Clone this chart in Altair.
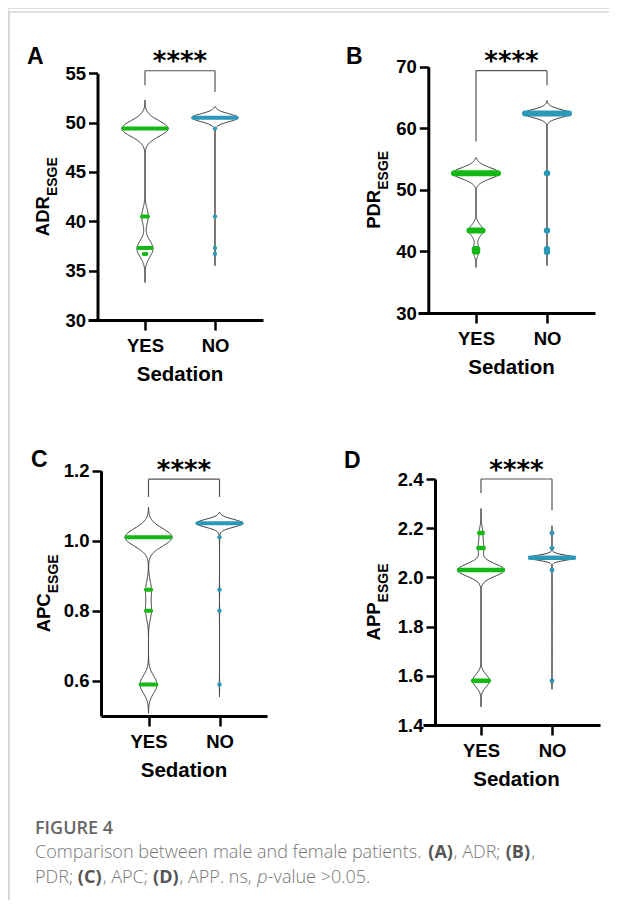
import altair as alt
import pandas as pd

# ---------------- data ----------------
GROUPS = ["YES", "NO"]

# Panel A - ADR (ESGE)
A_YES_VALUES = [49.4, 40.5, 37.3, 36.7]
A_YES_COUNTS = [100, 14, 30, 6]
A_NO_VALUES = [50.5, 49.4, 40.5, 37.3, 36.7]
A_NO_COUNTS = [100, 1, 1, 1, 1]
A_TICKS = [30, 35, 40, 45, 50, 55]
A_DOMAIN = [30, 55]
A_BANDWIDTH = [0.8, 0.4]
A_EXTENT = [[33.8, 52.3], [35.5, 51.6]]
A_BRACKET = [55.26, 53.8, 53.1]

# Panel B - PDR (ESGE)
B_YES_VALUES = [52.7, 43.4, 40.4, 40.0]
B_YES_COUNTS = [100, 30, 6, 6]
B_NO_VALUES = [62.4, 52.7, 43.4, 40.4, 39.9]
B_NO_COUNTS = [100, 1, 1, 1, 1]
B_TICKS = [30, 40, 50, 60, 70]
B_DOMAIN = [30, 70]
B_BANDWIDTH = [0.9, 0.65]
B_EXTENT = [[37.4, 55.2], [37.7, 64.5]]
B_BRACKET = [69.35, 57.85, 67.0]

# Panel C - APC (ESGE)
C_YES_VALUES = [1.01, 0.86, 0.80, 0.59]
C_YES_COUNTS = [100, 12, 12, 36]
C_NO_VALUES = [1.05, 1.01, 0.86, 0.80, 0.59]
C_NO_COUNTS = [100, 1, 1, 1, 1]
C_TICKS = [0.6, 0.8, 1.0, 1.2]
C_DOMAIN = [0.5, 1.2]
C_BANDWIDTH = [0.025, 0.011]
C_EXTENT = [[0.508, 1.095], [0.555, 1.08]]
C_BRACKET = [1.176, 1.125, 1.125]

# Panel D - APP (ESGE)
D_YES_VALUES = [2.18, 2.12, 2.03, 1.58]
D_YES_COUNTS = [8, 12, 100, 36]
D_NO_VALUES = [2.18, 2.12, 2.08, 2.03, 1.58]
D_NO_COUNTS = [1, 1, 100, 1, 1]
D_TICKS = [1.4, 1.6, 1.8, 2.0, 2.2, 2.4]
D_DOMAIN = [1.4, 2.4]
D_BANDWIDTH = [0.025, 0.01]
D_EXTENT = [[1.474, 2.28], [1.545, 2.21]]
D_BRACKET = [2.40, 2.343, 2.274]

SIGNIF = "****"
X_TITLE = "Sedation"
Y_TITLES = ["ADR", "PDR", "APC", "APP"]
Y_SUB = "ESGE"
LETTERS = ["A", "B", "C", "D"]
CAPTION_HEAD = "FIGURE 4"
CAPTION_LINES = [
    [("Comparison between male and female patients. ", "normal", "normal"), ("(A)", "bold", "normal"),
     (", ADR; ", "normal", "normal"), ("(B)", "bold", "normal"), (",", "normal", "normal")],
    [("PDR; ", "normal", "normal"), ("(C)", "bold", "normal"), (", APC; ", "normal", "normal"),
     ("(D)", "bold", "normal"), (", APP. ns, ", "normal", "normal"), ("p", "normal", "italic"),
     ("-value >0.05.", "normal", "normal")],
]

# ---------------- styling / layout ----------------
FONT = "Liberation Sans"
CAP_FONT = "Open Sans"
GREEN = "#14b814"
BLUE = "#2a98b6"
W, H = 601, 892
HALF = 0.33       # violin max half width (group units)
LINE_HALF = 0.31  # widest point row half width

# plot-area layout in pixels: left, right, yes-center, no-center, top, bottom, y-axis x
LAYOUT = {
    "A": dict(left=80, right=255, yes=137, no=207, top=65.3, bottom=312, yaxis=89.5, sw=4),
    "B": dict(left=410, right=587, yes=468, no=539, top=58.7, bottom=305, yaxis=420.3, sw=6),
    "C": dict(left=93, right=259, yes=140.5, no=211.5, top=462.7, bottom=708, yaxis=93, sw=4),
    "D": dict(left=415, right=592, yes=473, no=544, top=471, bottom=717, yaxis=427, sw=4.5),
}
TITLE_X = {"A": 40.5, "B": 372, "C": 42, "D": 372}
LETTER_POS = {"A": (19, 56), "B": (338, 56), "C": (23, 459), "D": (336, 460)}

PANELS = {
    "A": dict(yes=(A_YES_VALUES, A_YES_COUNTS), no=(A_NO_VALUES, A_NO_COUNTS), ticks=A_TICKS,
              dom=A_DOMAIN, bw=A_BANDWIDTH, ext=A_EXTENT, br=A_BRACKET, fmt="d"),
    "B": dict(yes=(B_YES_VALUES, B_YES_COUNTS), no=(B_NO_VALUES, B_NO_COUNTS), ticks=B_TICKS,
              dom=B_DOMAIN, bw=B_BANDWIDTH, ext=B_EXTENT, br=B_BRACKET, fmt="d"),
    "C": dict(yes=(C_YES_VALUES, C_YES_COUNTS), no=(C_NO_VALUES, C_NO_COUNTS), ticks=C_TICKS,
              dom=C_DOMAIN, bw=C_BANDWIDTH, ext=C_EXTENT, br=C_BRACKET, fmt=".1f"),
    "D": dict(yes=(D_YES_VALUES, D_YES_COUNTS), no=(D_NO_VALUES, D_NO_COUNTS), ticks=D_TICKS,
              dom=D_DOMAIN, bw=D_BANDWIDTH, ext=D_EXTENT, br=D_BRACKET, fmt=".1f"),
}

ONE = pd.DataFrame({"k": [0]})


def text(t, x, y, size, weight="bold", font=FONT, align="left", angle=None, color="black", style=None):
    kw = dict(text=t, fontSize=size, fontWeight=weight, font=font, align=align, baseline="alphabetic", color=color)
    if angle is not None:
        kw["angle"] = angle
    if style:
        kw["fontStyle"] = style
    return alt.Chart(ONE).mark_text(**kw).encode(x=alt.value(x), y=alt.value(y))


def expand(values, counts):
    out = []
    for v, c in zip(values, counts):
        out += [v] * c
    return pd.DataFrame({"v": out})


ARIAL_B = {"A": .722, "D": .722, "R": .722, "P": .667, "C": .722, "E": .667, "S": .667, "G": .778}


def bw_width(s, size):
    return sum(ARIAL_B.get(ch, .6) for ch in s) * size


layers = []

# frame lines
layers.append(alt.Chart(ONE).mark_rule(color="#d2d2d2", strokeWidth=1.5).encode(
    x=alt.value(1), x2=alt.value(W), y=alt.value(4)))
layers.append(alt.Chart(ONE).mark_rule(color="#d2d2d2", strokeWidth=1.5).encode(
    x=alt.value(1), y=alt.value(4), y2=alt.value(H)))

for key, ytitle in zip(LETTERS, Y_TITLES):
    L = LAYOUT[key]
    P = PANELS[key]
    sp = L["no"] - L["yes"]
    xdom = [(L["left"] - L["yes"]) / sp, (L["right"] - L["yes"]) / sp]
    xs = alt.Scale(domain=xdom, range=[L["left"], L["right"]], nice=False, zero=False)
    ys = alt.Scale(domain=P["dom"], range=[L["bottom"], L["top"]], nice=False, zero=False)
    xax = alt.Axis(orient="bottom", offset=L["bottom"] - H, values=[0, 1],
                   labelExpr="datum.value == 0 ? 'YES' : 'NO'", title=None, grid=False,
                   domainColor="black", domainWidth=3, tickColor="black", tickWidth=2.5, tickSize=10,
                   labelFont=FONT, labelFontSize=18.5, labelFontWeight="bold", labelColor="black",
                   labelPadding=6.5, labelFlush=False, labelOverlap=False)
    yax = alt.Axis(orient="left", offset=-L["yaxis"], values=P["ticks"], format=P["fmt"], title=None,
                   grid=False, domainColor="black", domainWidth=3, tickColor="black", tickWidth=2.5,
                   tickSize=9, labelFont=FONT, labelFontSize=18.5, labelFontWeight="bold",
                   labelColor="black", labelPadding=3, labelFlush=False, labelOverlap=False)

    panel_layers = []
    for gi, grp in enumerate(GROUPS):
        vals, cnts = P["yes"] if gi == 0 else P["no"]
        violin = (alt.Chart(expand(vals, cnts))
                  .transform_density("v", as_=["v", "d"], bandwidth=P["bw"][gi], extent=P["ext"][gi], steps=260)
                  .transform_joinaggregate(dmax="max(d)")
                  .transform_calculate(xl=f"{gi} - {HALF} * datum.d / datum.dmax",
                                       xr=f"{gi} + {HALF} * datum.d / datum.dmax")
                  .mark_area(orient="horizontal", fill="white", stroke="#3c3c3c", strokeWidth=1)
                  .encode(y=alt.Y("v:Q", scale=ys, axis=yax),
                          x=alt.X("xl:Q", scale=xs, axis=xax), x2="xr:Q"))
        panel_layers.append(violin)
    for gi, (grp, color) in enumerate(zip(GROUPS, [GREEN, BLUE])):
        vals, cnts = P["yes"] if gi == 0 else P["no"]
        pts = (alt.Chart(pd.DataFrame({"v": vals, "c": cnts}))
               .transform_joinaggregate(cmax="max(c)")
               .transform_calculate(xl=f"{gi} - {LINE_HALF} * datum.c / datum.cmax",
                                    xr=f"{gi} + {LINE_HALF} * datum.c / datum.cmax")
               .mark_rule(color=color, strokeWidth=L["sw"], strokeCap="round")
               .encode(y=alt.Y("v:Q", scale=ys, axis=yax),
                       x=alt.X("xl:Q", scale=xs, axis=xax), x2="xr:Q"))
        panel_layers.append(pts)
    top, le, re = P["br"]
    br = pd.DataFrame({"x": [0, 0, 1], "x2": [1, 0, 1], "y": [top, top, top], "y2": [top, le, re]})
    panel_layers.append(alt.Chart(br).mark_rule(color="#555555", strokeWidth=1.2).encode(
        x=alt.X("x:Q", scale=xs, axis=xax), x2="x2:Q",
        y=alt.Y("y:Q", scale=ys, axis=yax), y2="y2:Q"))
    layers.append(alt.layer(*panel_layers))

    # annotations
    mid = (L["yes"] + L["no"]) / 2
    lx, ly = LETTER_POS[key]
    layers.append(text(key, lx, ly, 23))
    br_px = L["top"] + (P["dom"][1] - top) / (P["dom"][1] - P["dom"][0]) * (L["bottom"] - L["top"])
    layers.append(text(SIGNIF, mid, br_px - 16.5 + 16, 26, font="DejaVu Sans", align="center"))
    layers.append(text(X_TITLE, mid, L["bottom"] + 61, 20.5, align="center"))
    cy = (L["top"] + L["bottom"]) / 2
    wm = bw_width(ytitle, 18.5)
    wsub = bw_width(Y_SUB, 14)
    start = cy + (wm + wsub) / 2
    layers.append(text(ytitle, TITLE_X[key], start, 18.5, angle=270))
    layers.append(text(Y_SUB, TITLE_X[key] + 8, start - wm, 14, angle=270))

# caption
OPEN = {" ": .26, "(": .295, ")": .295, ",": .245, "-": .322, ".": .266, ";": .266, ">": .572,
        "A": .633, "C": .631, "D": .722, "P": .604, "R": .613, "a": .556, "b": .613, "d": .613,
        "e": .561, "f": .339, "h": .614, "i": .253, "l": .253, "m": .93, "n": .614, "o": .604,
        "p": .613, "r": .408, "s": .477, "t": .353, "u": .614, "v": .501, "w": .778}
OPEN_B = {"(": .342, ")": .342, "A": .72, "B": .728, "C": .695, "D": .782}
LIGHT_FACTOR = 0.966
CAP_SIZE = 18
CAP_X = 27
layers.append(text(CAPTION_HEAD, CAP_X, 826, CAP_SIZE, weight=600, font=CAP_FONT, color="#666666"))
for li, segs in enumerate(CAPTION_LINES):
    x = CAP_X
    yb = 850 + li * 25
    for s, wt, st in segs:
        col = "#555555" if wt == "bold" else "#777777"
        w = wt if wt == "bold" else 300
        layers.append(text(s, x, yb, CAP_SIZE, weight=w, font=CAP_FONT, color=col, style=st if st != "normal" else None))
        if wt == "bold":
            x += sum(OPEN_B.get(ch, OPEN.get(ch, .57)) for ch in s) * CAP_SIZE
        else:
            x += sum(OPEN.get(ch, .57) for ch in s) * CAP_SIZE * LIGHT_FACTOR

chart = (alt.layer(*layers)
         .resolve_scale(x="independent", y="independent")
         .properties(width=W, height=H, autosize=alt.AutoSizeParams(type="none"), padding=0)
         .configure_view(stroke=None)
         .configure(background="white"))

chart.save("out.html", embed_options={"renderer": "svg", "actions": False})
